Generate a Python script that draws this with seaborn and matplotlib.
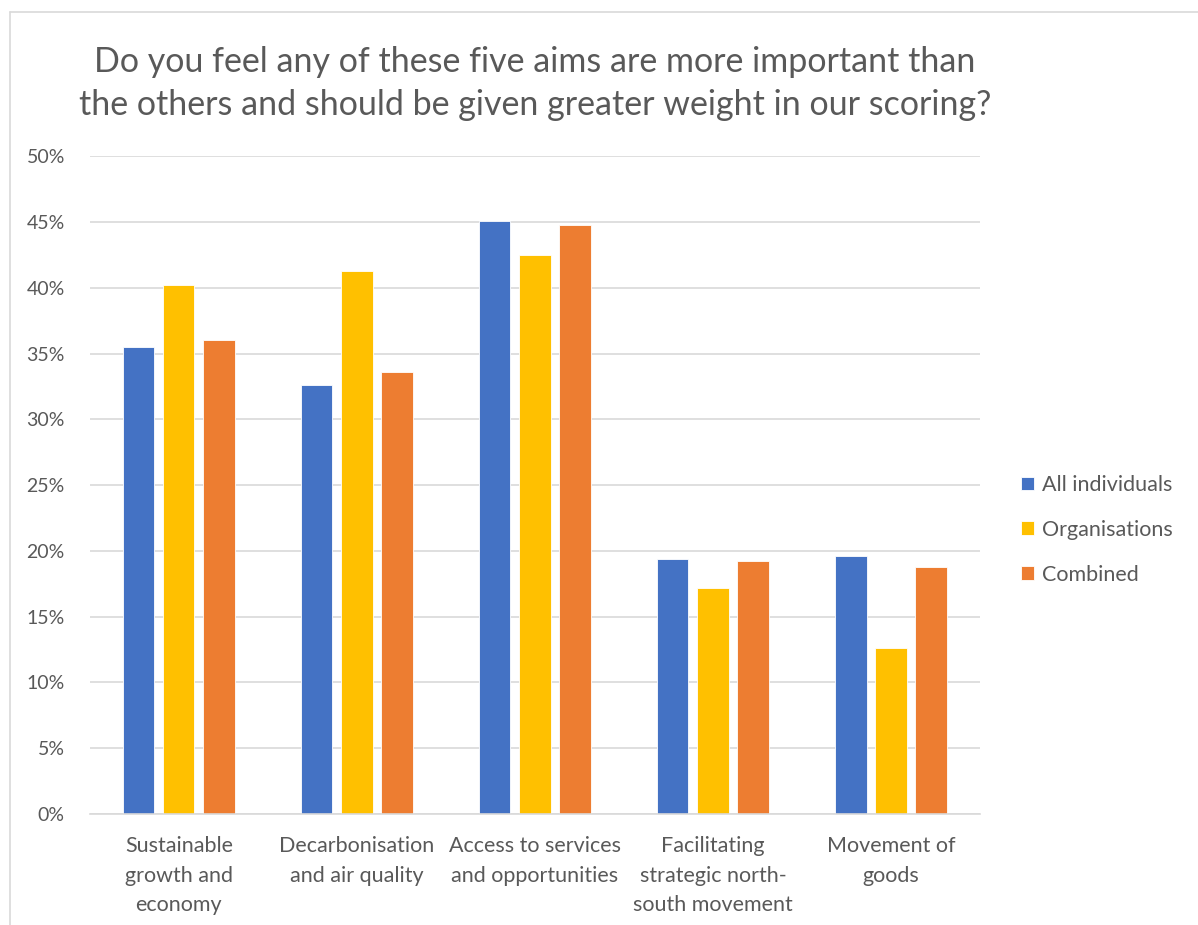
import pandas as pd
import matplotlib.pyplot as plt
import seaborn as sns
from matplotlib.lines import Line2D
from matplotlib.ticker import PercentFormatter

# Survey data (share of respondents, %)
aims = ['Sustainable\ngrowth and\neconomy', 'Decarbonisation\nand air quality',
        'Access to services\nand opportunities', 'Facilitating\nstrategic north-\nsouth movement',
        'Movement of\ngoods']
all_individuals = [35.5, 32.6, 45.1, 19.4, 19.6]
organisations = [40.2, 41.3, 42.5, 17.2, 12.6]
combined = [36.0, 33.6, 44.8, 19.2, 18.8]
groups = ['All individuals', 'Organisations', 'Combined']
colors = ['#4472C4', '#FFC000', '#ED7D31']

df = pd.DataFrame({
    'Aim': aims * 3,
    'Group': [g for g in groups for _ in aims],
    'Value': all_individuals + organisations + combined,
})

sns.set_style('white')
plt.rcParams['font.family'] = ['Lato', 'DejaVu Sans']
text_color = '#595959'

fig = plt.figure(figsize=(11.98, 9.25), dpi=100)
ax = fig.add_axes([0.075, 0.12, 0.743, 0.711])

sns.barplot(data=df, x='Aim', y='Value', hue='Group', palette=colors, saturation=1,
            width=0.675, gap=0.22, edgecolor='white', linewidth=0.6, ax=ax)

ax.set_ylim(0, 50)
ax.set_yticks(range(0, 51, 5))
ax.yaxis.set_major_formatter(PercentFormatter(decimals=0))
ax.set_xlim(-0.5, 4.5)
ax.grid(axis='y', color='#D9D9D9', linewidth=1.2)
ax.set_axisbelow(True)
for s in ['top', 'right', 'left']:
    ax.spines[s].set_visible(False)
ax.spines['bottom'].set_color('#D9D9D9')
ax.spines['bottom'].set_linewidth(1.2)
ax.tick_params(axis='y', length=0, labelsize=14, colors=text_color, pad=18)
ax.tick_params(axis='x', length=0, labelsize=15.5, colors=text_color, pad=16)
for lbl in ax.get_xticklabels():
    lbl.set_linespacing(1.6)
ax.set_xlabel('')
ax.set_ylabel('')

ax.set_title('Do you feel any of these five aims are more important than\n'
             'the others and should be given greater weight in our scoring?',
             fontsize=24.5, color=text_color, pad=30, linespacing=1.4)

ax.legend(loc='center left', bbox_to_anchor=(1.024, 0.432), frameon=False,
          fontsize=15.5, labelcolor=text_color, handlelength=0.6, handleheight=0.6,
          handletextpad=0.4, labelspacing=1.15)

# chart area border (top and left visible)
fig.add_artist(Line2D([10 / 1198, 10 / 1198], [0, 1 - 12 / 925], transform=fig.transFigure,
                      color='#D9D9D9', linewidth=1.2))
fig.add_artist(Line2D([10 / 1198, 1], [1 - 12 / 925, 1 - 12 / 925], transform=fig.transFigure,
                      color='#D9D9D9', linewidth=1.2))

fig.savefig('out.png', dpi=100, facecolor='white')
